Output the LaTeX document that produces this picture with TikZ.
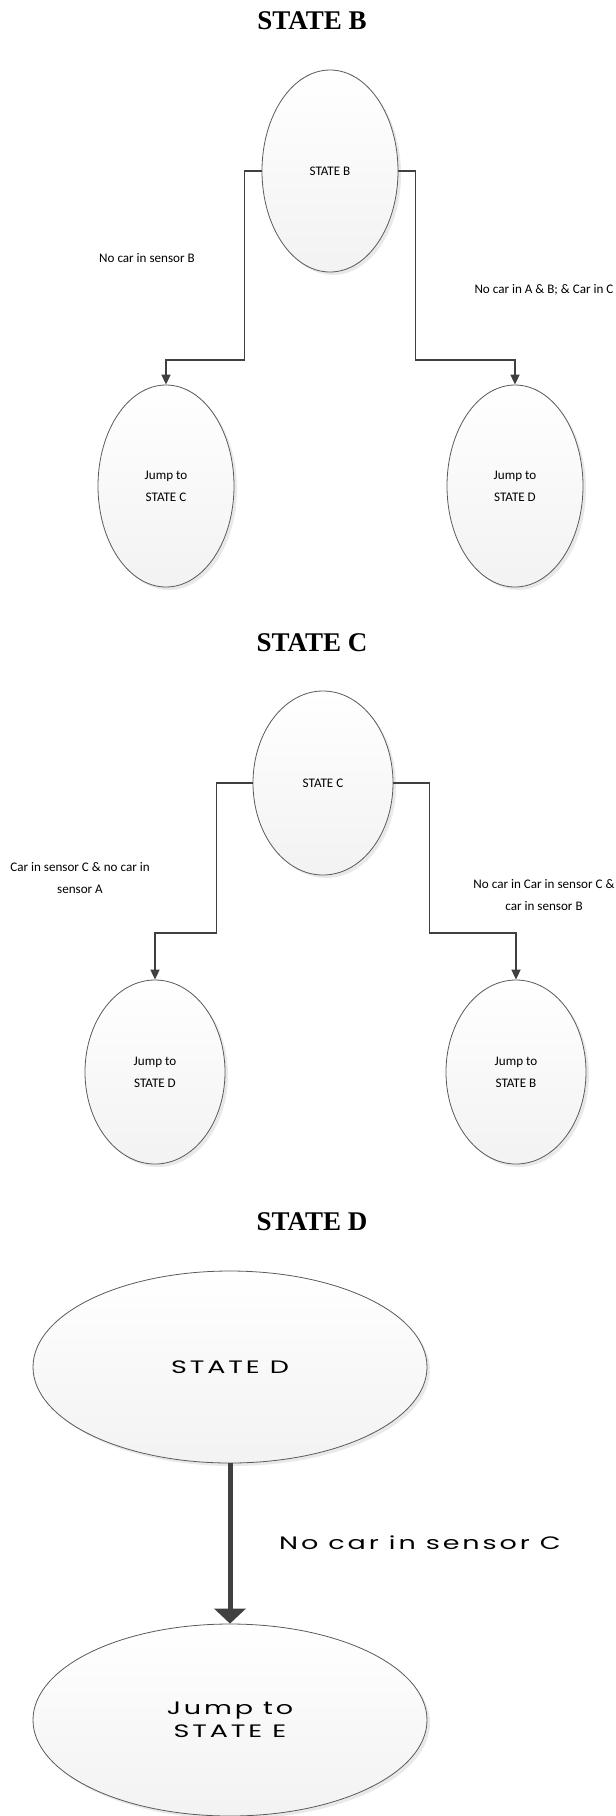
\documentclass[tikz,border=0pt]{standalone}
\usepackage{fontspec}
\usepackage{tikz}
\usetikzlibrary{arrows.meta}
\usetikzlibrary{shapes.geometric}
\usetikzlibrary{shadows}

\setmainfont{Carlito}
\newfontfamily\titlefont{Liberation Serif}
\newfontfamily\widefont{Poppins}[FakeStretch=1.5, LetterSpace=16]

\definecolor{linegray}{HTML}{404040}
\definecolor{rimgray}{HTML}{5A5A5A}

\begin{document}
\begin{tikzpicture}[x=1pt, y=1pt,
	bubble/.style={ellipse, draw=rimgray, line width=0.8pt, top color=white, bottom color=black!5,
		drop shadow={shadow xshift=3pt, shadow yshift=-3pt, fill=black!12, opacity=0.7},
		inner sep=0pt, align=center},
	tall/.style={bubble, minimum width=136, minimum height=202, font=\fontsize{13.1}{22}\selectfont},
	mid/.style={bubble, minimum width=140, minimum height=184, font=\fontsize{13.1}{22}\selectfont},
	wide/.style={bubble, minimum width=394, minimum height=192, font=\widefont\fontsize{18}{23}\selectfont},
	title/.style={font=\titlefont\bfseries\fontsize{27}{30}\selectfont, inner sep=0pt},
	cond/.style={align=center, inner sep=0pt, font=\fontsize{13.1}{22}\selectfont},
	widecond/.style={inner sep=0pt, font=\widefont\fontsize{18}{23}\selectfont},
	conn/.style={draw=linegray, line width=1.7pt, -{Triangle[width=9pt,length=10pt]}},
	bigconn/.style={draw=linegray, line width=5pt, -{Triangle[width=31pt,length=15pt]}}]

	\useasboundingbox (0,0) rectangle (616,-1816);

	%state B

	\node[title] (tB) at (312,-21) {STATE B};
	\node[tall] (sB) at (330,-171) {STATE B};
	\node[tall] (jC1) at (166,-486) {Jump to\\STATE C};
	\node[tall] (jD1) at (515,-486) {Jump to\\STATE D};
	\draw[conn] (sB.west) -| ++(-17,-189) -| (jC1.north);
	\draw[conn] (sB.east) -| ++(17,-189) -| (jD1.north);
	\node[cond] (lB1) at (147,-258) {No car in sensor B};
	\node[cond] (lB2) at (544,-290) {No car in A \& B; \& Car in C};


	%state C

	\node[title] (tC) at (312,-643) {STATE C};
	\node[mid] (sC) at (323,-783) {STATE C};
	\node[mid] (jD2) at (155,-1072) {Jump to\\STATE D};
	\node[mid] (jB2) at (516,-1072) {Jump to\\STATE B};
	\draw[conn] (sC.west) -| ++(-36,-150) -| (jD2.north);
	\draw[conn] (sC.east) -| ++(36,-150) -| (jB2.north);
	\node[cond] (lC1) at (80,-878) {Car in sensor C \& no car in\\sensor A};
	\node[cond] (lC2) at (544,-895) {No car in Car in sensor C \&\\car in sensor B};


	%state D

	\node[title] (tD) at (312,-1222) {STATE D};
	\node[wide] (sD) at (230,-1367) {STATE D};
	\node[wide] (jE) at (230,-1720) {Jump to\\STATE E};
	\draw[bigconn] (sD.south) -- (jE.north);
	\node[widecond] (lD) at (420,-1543) {No car in sensor C};

\end{tikzpicture}
\end{document}
